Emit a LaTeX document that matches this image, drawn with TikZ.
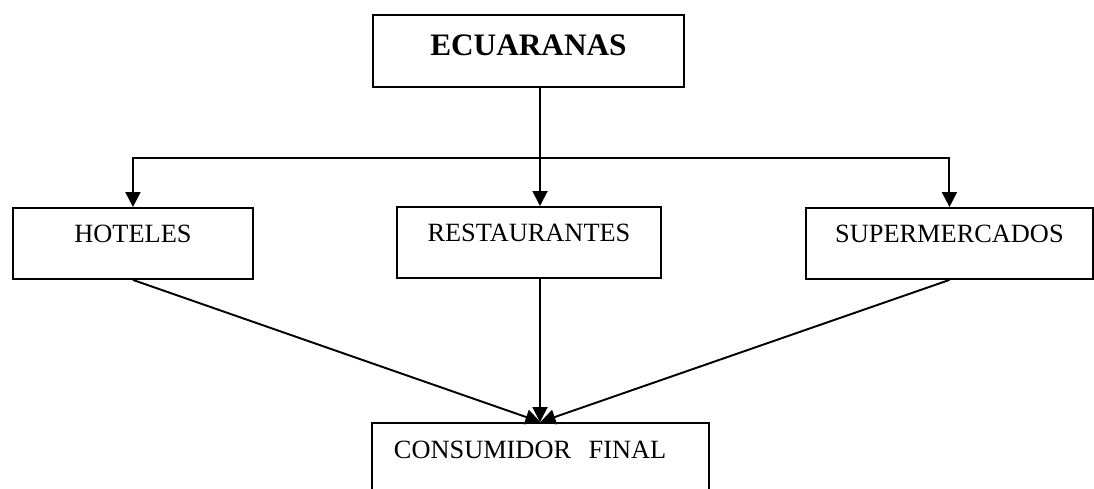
\documentclass[tikz,border=0pt]{standalone}
\usepackage{fontspec}
\setmainfont{Liberation Serif}
\usetikzlibrary{arrows.meta}

\begin{document}
\begin{tikzpicture}[x=0.02cm, y=-0.02cm,
    caja/.style={draw, line width=1.1pt, inner sep=0pt, anchor=north west,
        font=\fontsize{15pt}{18pt}\selectfont, text height=0.7cm, text depth=0.72cm},
    flecha/.style={line width=1.1pt, -{Triangle[length=0.3cm, width=0.3cm]}}]
        \useasboundingbox (0,0) rectangle (1094,488);
        \clip (0,0) rectangle (1094,488);

        \node[caja, minimum width=6.22cm, font=\fontsize{17.8pt}{21pt}\selectfont\bfseries,
            text height=0.82cm, text depth=0.62cm] (ecuaranas) at (372,14) {ECUARANAS};

        \node[caja, minimum width=4.8cm] (hoteles) at (12,207) {HOTELES};
        \node[caja, minimum width=5.28cm] (restaurantes) at (396,206) {RESTAURANTES};
        \node[caja, minimum width=5.74cm] (supermercados) at (805,207) {SUPERMERCADOS};

        \node[caja, text width=5.86cm, align=left, inner xsep=0.44cm,
            text height=0.72cm, text depth=2cm] (consumidor) at (371,422) {CONSUMIDOR\ \ FINAL};

        \coordinate (bus) at (540,158);
        \draw[line width=1.1pt] (ecuaranas.south -| bus) -- (bus);
        \draw[flecha] (bus) -| (hoteles.north);
        \draw[flecha] (bus) -- (bus |- restaurantes.north);
        \draw[flecha] (bus) -| (supermercados.north);

        \draw[flecha] (hoteles.south) -- (consumidor.north);
        \draw[flecha] (restaurantes.south -| bus) -- (consumidor.north -| bus);
        \draw[flecha] (supermercados.south) -- (consumidor.north);
\end{tikzpicture}
\end{document}
